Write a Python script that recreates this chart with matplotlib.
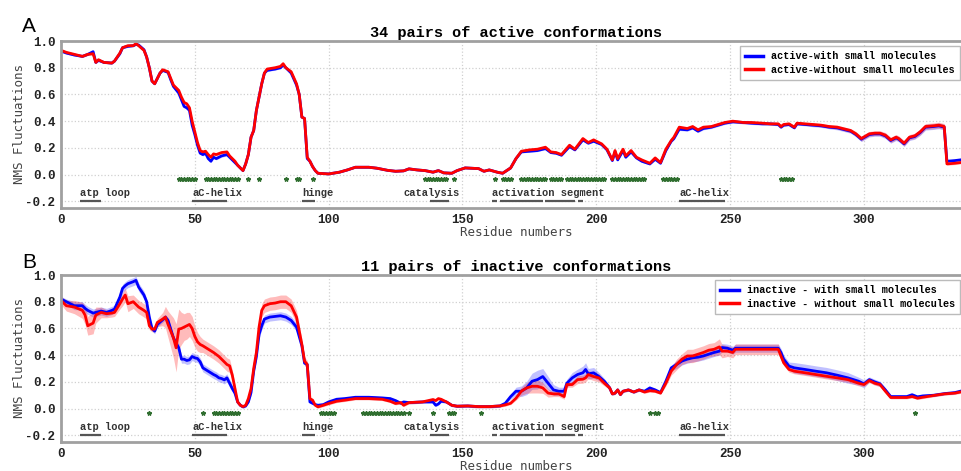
import numpy as np
import matplotlib
matplotlib.use('Agg')
import matplotlib.pyplot as plt

plt.rcParams['axes.unicode_minus'] = False

MONO = 'Liberation Mono'
LABEL_FONT = 'DejaVu Sans Mono'

# ---- panel A: active conformations ----
res_a = [0, 2, 5, 8, 10, 12, 13, 14, 16, 19,
         20, 22, 23, 25, 27, 28, 29, 31, 32, 33,
         34, 35, 36, 37, 38, 40, 41, 42, 44, 45,
         46, 47, 48, 49, 50, 51, 52, 53, 54, 55,
         56, 57, 58, 60, 62, 63, 65, 66, 67, 68,
         69, 70, 71, 72, 73, 75, 76, 77, 80, 82,
         83, 84, 86, 88, 89, 90, 91, 92, 93, 94,
         95, 96, 100, 104, 107, 110, 115, 118, 122, 125,
         128, 130, 133, 136, 139, 141, 143, 146, 148, 151,
         156, 158, 160, 163, 165, 168, 170, 172, 175, 178,
         181, 183, 185, 187, 190, 192, 195, 197, 199, 202,
         204, 206, 207, 208, 210, 211, 213, 215, 217, 220,
         222, 224, 226, 228, 229, 231, 234, 236, 238, 240,
         243, 248, 251, 255, 258, 262, 265, 268, 269, 270,
         272, 274, 275, 278, 281, 284, 287, 290, 293, 295,
         297, 299, 302, 304, 306, 308, 310, 312, 313, 315,
         317, 319, 321, 323, 326, 328, 330, 331, 334, 336]

act_without = [.93, .915, .90, .885, .90, .905, .84, .86, .84, .835,
               .85, .91, .95, .965, .965, .98, .965, .93, .88, .80,
               .70, .68, .72, .76, .785, .77, .72, .67, .63, .58,
               .54, .53, .50, .40, .32, .24, .18, .17, .175, .15,
               .13, .155, .15, .165, .17, .14, .10, .07, .05, .03,
               .08, .15, .28, .33, .48, .68, .76, .79, .80, .81,
               .83, .80, .77, .68, .60, .43, .42, .13, .10, .06,
               .03, .01, .005, .018, .035, .055, .055, .048, .032, .025,
               .028, .043, .035, .03, .018, .03, .013, .01, .03, .05,
               .045, .025, .035, .018, .01, .05, .12, .175, .185, .19,
               .205, .17, .165, .15, .22, .19, .27, .24, .26, .23,
               .19, .11, .18, .12, .19, .14, .18, .13, .11, .085,
               .125, .09, .19, .255, .28, .355, .345, .36, .335, .355,
               .36, .39, .40, .39, .39, .385, .38, .38, .36, .375,
               .38, .355, .385, .38, .375, .37, .36, .355, .34, .33,
               .305, .27, .305, .31, .31, .295, .26, .28, .27, .235,
               .28, .29, .32, .36, .365, .37, .36, .08, .085, .09]

act_with = [.925, .91, .895, .885, .90, .92, .84, .855, .84, .835,
            .85, .905, .95, .96, .965, .975, .97, .935, .88, .80,
            .70, .68, .72, .76, .78, .765, .71, .66, .61, .56,
            .51, .50, .48, .37, .30, .22, .16, .15, .16, .12,
            .10, .13, .12, .14, .15, .13, .09, .07, .05, .03,
            .08, .15, .28, .33, .48, .68, .76, .78, .79, .80,
            .82, .80, .76, .67, .60, .43, .42, .12, .10, .06,
            .03, .01, .005, .018, .035, .055, .055, .048, .032, .025,
            .028, .043, .035, .03, .018, .03, .013, .01, .03, .05,
            .045, .025, .035, .018, .01, .05, .12, .17, .175, .18,
            .195, .165, .16, .145, .21, .185, .26, .235, .25, .225,
            .185, .105, .17, .11, .18, .13, .17, .125, .10, .08,
            .115, .085, .18, .25, .27, .34, .335, .35, .325, .345,
            .355, .385, .395, .39, .385, .38, .38, .375, .355, .37,
            .375, .35, .38, .375, .37, .365, .355, .35, .335, .325,
            .30, .265, .30, .305, .305, .29, .255, .275, .265, .23,
            .275, .285, .315, .355, .36, .365, .355, .10, .105, .11]

act_sd = [.008, .008, .008, .008, .008, .01, .01, .008, .008, .008,
          .008, .008, .008, .008, .008, .008, .008, .008, .008, .008,
          .008, .008, .008, .008, .008, .008, .008, .01, .01, .01,
          .01, .01, .01, .01, .01, .01, .01, .01, .01, .01,
          .01, .01, .01, .01, .01, .01, .008, .008, .008, .008,
          .008, .008, .008, .008, .008, .008, .008, .008, .008, .008,
          .008, .008, .008, .008, .008, .008, .008, .008, .008, .008,
          .005, .005, .005, .005, .005, .005, .005, .005, .005, .005,
          .005, .005, .005, .005, .005, .005, .005, .005, .005, .005,
          .005, .005, .005, .005, .005, .008, .008, .008, .008, .008,
          .008, .008, .008, .008, .008, .008, .008, .008, .008, .008,
          .008, .008, .008, .008, .008, .008, .008, .008, .008, .008,
          .008, .008, .008, .01, .01, .01, .01, .01, .01, .01,
          .01, .01, .01, .01, .01, .01, .01, .01, .01, .01,
          .01, .01, .01, .01, .012, .012, .012, .015, .015, .015,
          .018, .018, .018, .018, .018, .02, .02, .02, .02, .02,
          .02, .02, .022, .022, .022, .022, .022, .01, .01, .01]

# ---- panel B: inactive conformations ----
res_b = [0, 2, 5, 8, 9, 10, 12, 13, 15, 17,
         19, 20, 22, 23, 24, 25, 27, 28, 29, 31,
         32, 33, 34, 35, 36, 38, 39, 40, 42, 43,
         44, 45, 46, 47, 48, 49, 50, 51, 52, 53,
         55, 57, 58, 59, 60, 61, 62, 63, 64, 65,
         66, 67, 68, 69, 70, 71, 72, 73, 74, 75,
         76, 78, 80, 82, 84, 86, 88, 90, 91, 92,
         93, 94, 95, 96, 98, 100, 103, 106, 110, 115,
         120, 123, 125, 127, 128, 130, 135, 139, 140, 141,
         142, 144, 146, 148, 152, 156, 160, 164, 166, 168,
         170, 172, 174, 176, 178, 180, 182, 184, 186, 188,
         189, 191, 193, 195, 196, 197, 199, 201, 203, 205,
         206, 207, 208, 209, 210, 212, 214, 216, 218, 220,
         222, 224, 226, 228, 230, 232, 234, 236, 238, 240,
         242, 244, 246, 247, 249, 251, 252, 254, 258, 262,
         266, 268, 269, 270, 272, 274, 278, 282, 286, 290,
         294, 298, 300, 302, 304, 306, 308, 310, 312, 316,
         318, 320, 322, 326, 330, 334, 336]

inact_without = [.81, .77, .76, .735, .70, .62, .64, .70, .72, .71,
                 .715, .72, .785, .82, .85, .785, .80, .78, .76, .735,
                 .72, .62, .595, .595, .645, .67, .685, .63, .53, .455,
                 .595, .60, .61, .62, .63, .60, .54, .50, .48, .47,
                 .445, .42, .405, .39, .37, .35, .33, .32, .25, .15,
                 .05, .025, .015, .025, .075, .15, .30, .42, .61, .735,
                 .77, .785, .79, .80, .80, .77, .685, .48, .355, .33,
                 .075, .063, .025, .013, .025, .038, .055, .063, .075, .075,
                 .07, .055, .038, .045, .025, .045, .05, .068, .06, .075,
                 .07, .05, .025, .018, .02, .015, .015, .02, .028, .04,
                 .078, .13, .155, .167, .167, .155, .116, .11, .11, .09,
                 .18, .18, .217, .22, .23, .255, .24, .23, .19, .155,
                 .11, .116, .14, .105, .13, .14, .124, .14, .124, .134,
                 .13, .116, .19, .28, .33, .37, .394, .394, .407, .42,
                 .437, .444, .462, .43, .43, .42, .444, .444, .444, .444,
                 .444, .444, .394, .343, .293, .28, .268, .255, .242, .23,
                 .217, .19, .18, .21, .19, .18, .13, .083, .083, .083,
                 .09, .078, .085, .098, .11, .116, .124]

inact_with = [.82, .80, .77, .77, .75, .735, .715, .72, .73, .72,
              .735, .745, .835, .90, .92, .935, .95, .96, .91, .85,
              .80, .685, .60, .58, .63, .665, .685, .66, .53, .49,
              .455, .37, .37, .36, .365, .39, .38, .375, .35, .305,
              .28, .255, .245, .23, .225, .215, .23, .19, .15, .115,
              .05, .025, .013, .02, .05, .12, .28, .39, .555, .62,
              .67, .685, .69, .695, .685, .66, .61, .47, .34, .33,
              .05, .04, .03, .025, .03, .05, .07, .075, .085, .085,
              .08, .075, .06, .04, .05, .045, .05, .05, .025, .035,
              .055, .05, .025, .018, .02, .015, .015, .02, .04, .09,
              .13, .13, .155, .205, .217, .24, .19, .14, .13, .13,
              .19, .23, .255, .268, .293, .26, .268, .24, .205, .155,
              .11, .116, .14, .105, .13, .14, .124, .14, .13, .155,
              .14, .12, .205, .305, .33, .356, .37, .38, .385, .394,
              .407, .42, .43, .457, .452, .437, .452, .452, .452, .452,
              .452, .452, .42, .37, .318, .305, .293, .28, .268, .25,
              .23, .205, .185, .217, .20, .185, .14, .09, .09, .09,
              .104, .088, .095, .10, .112, .12, .13]

inact_without_sd = [.03, .04, .05, .06, .07, .07, .08, .06, .04, .03,
                    .03, .03, .04, .05, .05, .06, .05, .05, .05, .05,
                    .05, .03, .02, .02, .03, .05, .08, .10, .15, .18,
                    .15, .12, .10, .10, .09, .09, .08, .07, .06, .05,
                    .05, .05, .05, .05, .05, .05, .05, .05, .04, .03,
                    .01, .01, .01, .01, .02, .03, .03, .04, .04, .05,
                    .05, .05, .05, .05, .05, .05, .05, .04, .03, .03,
                    .01, .01, .01, .01, .01, .01, .01, .01, .01, .01,
                    .01, .01, .01, .01, .01, .01, .01, .01, .01, .01,
                    .01, .01, .01, .01, .01, .01, .01, .01, .01, .01,
                    .015, .03, .04, .05, .05, .04, .03, .02, .02, .02,
                    .02, .02, .03, .03, .03, .03, .03, .03, .02, .015,
                    .01, .01, .01, .01, .01, .01, .01, .01, .01, .01,
                    .01, .01, .02, .03, .04, .04, .05, .05, .05, .05,
                    .05, .05, .06, .05, .04, .04, .04, .04, .04, .04,
                    .04, .04, .03, .02, .02, .02, .02, .02, .02, .02,
                    .02, .02, .015, .015, .015, .015, .01, .01, .01, .01,
                    .01, .01, .01, .01, .01, .01, .01]

inact_with_sd = [.02, .02, .03, .03, .03, .03, .03, .03, .03, .03,
                 .03, .03, .03, .03, .03, .03, .03, .03, .03, .03,
                 .02, .02, .02, .02, .02, .02, .02, .02, .02, .02,
                 .03, .03, .03, .03, .03, .03, .03, .03, .03, .03,
                 .03, .03, .03, .03, .03, .03, .03, .03, .02, .02,
                 .01, .01, .01, .01, .01, .02, .02, .03, .03, .03,
                 .03, .03, .03, .03, .03, .03, .03, .03, .02, .02,
                 .01, .01, .01, .01, .01, .01, .01, .01, .01, .01,
                 .01, .01, .01, .01, .01, .01, .01, .01, .01, .01,
                 .01, .01, .01, .01, .01, .01, .01, .01, .01, .02,
                 .03, .04, .05, .06, .07, .06, .05, .04, .03, .03,
                 .03, .04, .04, .05, .05, .04, .04, .03, .02, .015,
                 .01, .01, .01, .01, .01, .01, .01, .01, .01, .01,
                 .01, .01, .02, .02, .03, .03, .03, .03, .03, .03,
                 .03, .03, .03, .03, .03, .03, .03, .03, .03, .03,
                 .03, .03, .03, .03, .03, .04, .04, .04, .04, .04,
                 .04, .03, .03, .02, .02, .02, .015, .01, .01, .01,
                 .01, .01, .01, .01, .01, .01, .01]

# residues flagged as significantly different (first, last)
sites_a = [(44, 50), (54, 66), (70, 70), (74, 74), (84, 84), (88, 89), (94, 94),
           (136, 144), (147, 147), (162, 162), (165, 168), (172, 181), (183, 187),
           (189, 203), (206, 218), (225, 230), (269, 273)]
sites_b = [(33, 33), (53, 53), (57, 66), (97, 102), (113, 128), (130, 130),
           (139, 139), (145, 147), (157, 157), (220, 220), (222, 223), (319, 319)]

# structural regions: name, text start, underline segments
regions_a = [('atp loop', 7, [(7, 15)]),
             ('aC-helix', 49, [(49, 62)]),
             ('hinge', 90, [(90, 95)]),
             ('catalysis', 128, [(138, 145)]),
             ('activation segment', 161, [(161, 163), (164, 180), (181, 192), (193, 195)]),
             ('aC-helix', 231, [(231, 248)])]
regions_b = regions_a[:-1] + [('aG-helix', 231, [(231, 248)])]

labels_a = ['active-with small molecules', 'active-without small molecules']
labels_b = ['inactive - with small molecules', 'inactive - without small molecules']


def draw_panel(ax, res, w, wo, w_sd, wo_sd, labels, sites, regions, title):
    res = np.array(res)
    w, wo = np.array(w), np.array(wo)
    w_sd, wo_sd = np.array(w_sd), np.array(wo_sd)

    ax.fill_between(res, w - w_sd, w + w_sd, color='#3030ff', alpha=0.3, lw=0)
    ax.fill_between(res, wo - wo_sd, wo + wo_sd, color='#ff2020', alpha=0.3, lw=0)
    ax.plot(res, w, color='#0000ff', lw=2.0, label=labels[0])
    ax.plot(res, wo, color='#ff0000', lw=2.0, label=labels[1])

    pts = [r for a, b in sites for r in range(a, b + 1)]
    ax.plot(pts, [-0.033] * len(pts), ls='none', marker='*', ms=3.2,
            color='#2f6e2f', mec='#2f6e2f')

    for name, tx, segs in regions:
        ax.text(tx, -0.135, name, fontsize=7.5, family=MONO, weight='bold',
                color='#333333', va='center', ha='left')
        for a, b in segs:
            ax.plot([a, b], [-0.2, -0.2], color='#555555', lw=1.6,
                    solid_capstyle='butt')

    ax.set_xlim(0, 340)
    ax.set_ylim(-0.25, 1.0)
    ax.set_xticks([0, 50, 100, 150, 200, 250, 300])
    ax.set_yticks([-0.2, 0.0, 0.2, 0.4, 0.6, 0.8, 1.0])
    ax.set_yticklabels(['-0.2', '0.0', '0.2', '0.4', '0.6', '0.8', '1.0'])
    for lab in ax.get_xticklabels() + ax.get_yticklabels():
        lab.set_family(MONO)
        lab.set_weight('bold')
        lab.set_fontsize(9)
        lab.set_color('#222222')
    ax.tick_params(length=0, pad=4)
    ax.grid(True, color='#d0d0d0', ls=':', lw=0.9)
    ax.set_axisbelow(True)
    for sp in ax.spines.values():
        sp.set_color('#a0a0a0')
        sp.set_linewidth(2.0)

    ax.set_title(title, family=MONO, weight='bold', fontsize=11, pad=3)
    ax.set_ylabel('NMS Fluctuations', family=LABEL_FONT, fontsize=9, color='#444444')
    ax.yaxis.set_label_coords(-0.039, 0.5)
    ax.set_xlabel('Residue numbers', family=LABEL_FONT, fontsize=9, color='#444444')
    ax.xaxis.set_label_coords(0.5, -0.105)

    # legend pinned to the right border of the figure
    right = (960 - 61) / 910
    leg = ax.legend(loc='upper right', bbox_to_anchor=(right, 0.97),
                    prop={'family': MONO, 'weight': 'bold', 'size': 7.3},
                    handlelength=1.8, labelspacing=0.35, borderpad=0.5,
                    borderaxespad=0.0, fancybox=False, framealpha=1)
    leg.get_frame().set_edgecolor('#bbbbbb')
    for line in leg.get_lines():
        line.set_linewidth(2.5)


fig = plt.figure(figsize=(9.62, 4.71), dpi=100)
ax_a = fig.add_axes([61 / 962, 1 - 208 / 471, 910 / 962, 167 / 471])
ax_b = fig.add_axes([61 / 962, 1 - 442 / 471, 910 / 962, 167 / 471])

draw_panel(ax_a, res_a, act_with, act_without, act_sd, act_sd, labels_a,
           sites_a, regions_a, '34 pairs of active conformations')
draw_panel(ax_b, res_b, inact_with, inact_without, inact_with_sd, inact_without_sd,
           labels_b, sites_b, regions_b, '11 pairs of inactive conformations')

fig.text(22 / 962, 1 - 27 / 471, 'A', fontsize=15, family='Liberation Sans', va='center')
fig.text(22 / 962, 1 - 262 / 471, 'B', fontsize=15, family='Liberation Sans', va='center')

fig.savefig('out.png', dpi=100)
